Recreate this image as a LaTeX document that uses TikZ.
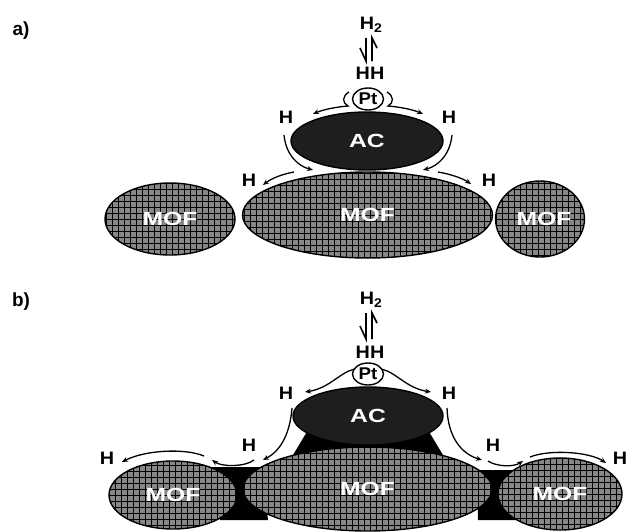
\documentclass[tikz,border=0pt]{standalone}
\usepackage{fontspec}
\setmainfont{Liberation Sans}
\newfontfamily\widefont[FakeStretch=1.3]{Liberation Sans}
\newfontfamily\hfont[FakeStretch=1.1]{Liberation Sans}
\usetikzlibrary{shapes.geometric,arrows.meta}
\definecolor{mofgray}{RGB}{135,135,135}
\definecolor{acblack}{RGB}{30,30,30}
\begin{document}
\begin{tikzpicture}[x=1pt,y=-1pt,
  lab/.style={font=\hfont\bfseries\fontsize{18}{18}\selectfont, inner sep=0pt},
  panel/.style={font=\bfseries\fontsize{19}{19}\selectfont, inner sep=0pt},
  mof/.style={ellipse, draw=black, line width=1.4pt, fill=mofgray, inner sep=0pt,
    text=white, font=\widefont\bfseries\fontsize{19}{19}\selectfont,
    path picture={\draw[black,line width=1.1pt,step=6pt]
      (path picture bounding box.south west) grid (path picture bounding box.north east);}},
  acnode/.style={ellipse, draw=black, line width=1.4pt, fill=acblack, inner sep=0pt,
    text=white, font=\widefont\bfseries\fontsize{19}{19}\selectfont},
  ptnode/.style={ellipse, draw=black, line width=1.4pt, fill=white, inner sep=0pt,
    minimum width=31pt, minimum height=22pt, font=\hfont\bfseries\fontsize{17}{17}\selectfont},
  flow/.style={line width=1.3pt, -{Stealth[length=6pt,width=5pt]}},
  harp/.style={line width=1.6pt},
  bridge/.style={fill=black}
]
\useasboundingbox (0,0) rectangle (629,531);

% ---------------- panel a ----------------
\node[panel] (la) at (21,31) {a)};
\node[lab] (h2a) at (371,25) {H\textsubscript{2}};
\draw[harp] (366,38) -- (366,61) -- (360,48);
\draw[harp] (372,61) -- (372,38) -- (377,48);
\node[lab] (hha) at (370,73) {HH};

\node[mof, minimum width=130pt, minimum height=72pt] (mofLa) at (170,219) {MOF};
\node[mof, minimum width=250pt, minimum height=86pt] (mofCa) at (367.5,215) {MOF};
\node[mof, minimum width=83pt, minimum height=76pt] (mofRa) at (540,219) {\hspace{8pt}MOF};
\node[acnode, minimum width=152pt, minimum height=58pt] (aca) at (367,141) {AC};
\node[ptnode] (pta) at (368,99) {Pt};

\node[lab] (ha1) at (286,117) {H};
\node[lab] (ha2) at (449,117) {H};
\node[lab] (ha3) at (249,180) {H};
\node[lab] (ha4) at (489,180) {H};

\draw[flow] (349,92) .. controls (342,96) and (342,103) .. (348,106)
  .. controls (335,107) and (322,110) .. (313,114);
\draw[flow] (387,92) .. controls (394,96) and (394,103) .. (388,106)
  .. controls (401,107) and (414,110) .. (423,114);
\draw[flow] (284,135) .. controls (286,155) and (298,166) .. (313,170);
\draw[flow] (452,135) .. controls (450,155) and (438,166) .. (423,170);
\draw[flow] (294,172) .. controls (283,174) and (272,178) .. (263,185);
\draw[flow] (438,172) .. controls (450,174) and (462,178) .. (471,184);

% ---------------- panel b ----------------
\node[panel] (lb) at (21,302) {b)};
\node[lab] (h2b) at (371,300) {H\textsubscript{2}};
\draw[harp] (366,313) -- (366,339) -- (360,326);
\draw[harp] (372,339) -- (372,313) -- (377,323);
\node[lab] (hhb) at (370,352) {HH};

\fill[bridge] (308,430) -- (290,460) -- (446,460) -- (428,430) -- cycle;
\fill[bridge] (208,467) -- (262,467) -- (268,520) -- (220,520) -- cycle;
\fill[bridge] (477,470) -- (530,470) -- (522,520) -- (478,520) -- cycle;

\node[mof, minimum width=128pt, minimum height=68pt] (mofLb) at (173,495) {MOF};
\node[mof, minimum width=249pt, minimum height=84pt] (mofCb) at (367.5,489) {MOF};
\node[mof, minimum width=124pt, minimum height=72pt] (mofRb) at (560,494) {MOF};
\node[acnode, minimum width=150pt, minimum height=58pt] (acb) at (368,416) {AC};
\node[ptnode] (ptb) at (368,374) {Pt};

\node[lab] (hb1) at (286,393) {H};
\node[lab] (hb2) at (449,393) {H};
\node[lab] (hb3) at (249,445) {H};
\node[lab] (hb4) at (493,445) {H};
\node[lab] (hb5) at (107,458) {H};
\node[lab] (hb6) at (620,458) {H};

\draw[flow] (355,369) .. controls (340,372) and (330,388) .. (305,392);
\draw[flow] (381,369) .. controls (396,372) and (406,388) .. (431,392);
\draw[flow] (292,408) .. controls (290,432) and (282,450) .. (263,460);
\draw[flow] (447,408) .. controls (448,438) and (462,454) .. (482,460);
\draw[flow] (254,460) .. controls (245,467) and (222,467) .. (212,460);
\draw[flow] (488,461) .. controls (497,467) and (514,467) .. (523,461);
\draw[flow] (204,456) .. controls (185,448) and (145,450) .. (122,462);
\draw[flow] (530,457) .. controls (550,449) and (590,452) .. (606,463);
\end{tikzpicture}
\end{document}
